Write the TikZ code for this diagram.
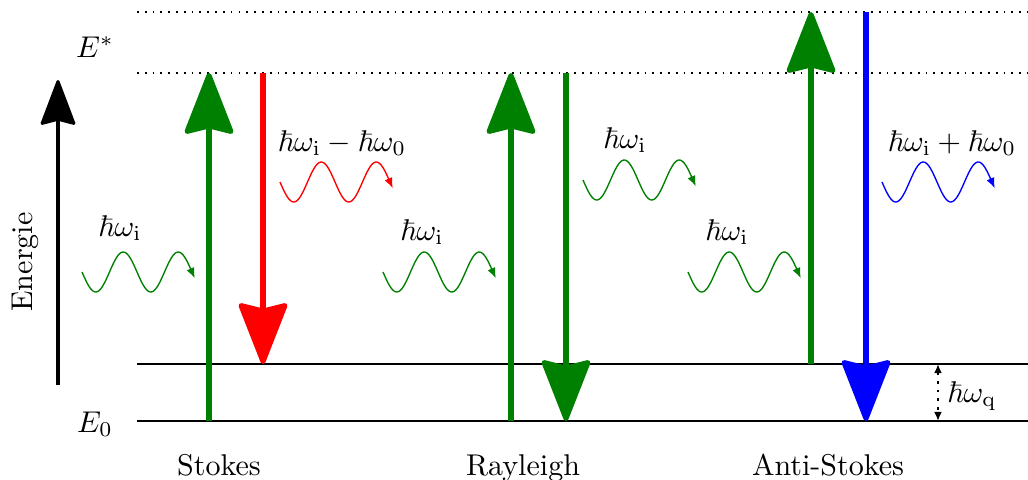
\documentclass[tikz,border=0pt]{standalone}
\usepackage{amsmath,amssymb}
\usepackage{tikz}
\usetikzlibrary{arrows.meta}
\definecolor{raman}{RGB}{0,128,0}
\newcommand{\hw}[1]{\hbar\omega_{\mathrm{#1}}}

\begin{document}
\begin{tikzpicture}[
    x=0.0117cm, y=-0.0117cm,
    level/.style={line width=0.65pt},
    virt/.style={dotted, line width=0.6pt},
    trans/.style={-{Stealth[length=22pt, width=17pt, inset=2pt, round]}, line width=1.7pt},
    photon/.style={-{Latex[length=3.4pt, width=2.8pt]}, line width=0.45pt},
    lbl/.style={inner sep=0pt}
  ]
  \useasboundingbox (0,0) rectangle (1028,480);
  % energy levels
  \coordinate (v2l) at (137,12);  \coordinate (v2r) at (1028,12);
  \coordinate (v1l) at (137,73);  \coordinate (v1r) at (1028,73);
  \coordinate (e1l) at (137,364); \coordinate (e1r) at (1028,364);
  \coordinate (e0l) at (137,421); \coordinate (e0r) at (1028,421);
  \draw[virt] (v2l) -- (v2r);
  \draw[virt] (v1l) -- (v1r);
  \draw[level] (e1l) -- (e1r);
  \draw[level] (e0l) -- (e0r);
  \node[lbl] (estar) at (95,47) {$E^*$};
  \node[lbl] (ezero) at (95,424) {$E_0$};
  % energy axis
  \coordinate (axbot) at (58,385);
  \coordinate (axtop) at (58,80);
  \draw[-{Stealth[length=16pt, width=12pt, inset=1.5pt, round]}, line width=1pt] (axbot) -- (axtop);
  \node[rotate=90, lbl] (energie) at (25,262) {Energie};
  % transitions
  \coordinate (st0) at (209,421); \coordinate (st1) at (209,73);
  \coordinate (sr0) at (263,73);  \coordinate (sr1) at (263,364);
  \coordinate (ry0) at (511,421); \coordinate (ry1) at (511,73);
  \coordinate (rd0) at (566,73);  \coordinate (rd1) at (566,421);
  \coordinate (au0) at (811,364); \coordinate (au1) at (811,12);
  \coordinate (ad0) at (866,12);  \coordinate (ad1) at (866,421);
  \draw[trans, raman] (st0) -- (st1);
  \draw[trans, red] (sr0) -- (sr1);
  \draw[trans, raman] (ry0) -- (ry1);
  \draw[trans, raman] (rd0) -- (rd1);
  \draw[trans, raman] (au0) -- (au1);
  \draw[trans, blue] (ad0) -- (ad1);
  % photons
  \foreach \sx/\cy/\col in {82/272/raman, 280/182/red, 383/272/raman,
                            583/180/raman, 688/272/raman, 882/182/blue}
    \draw[photon, \col] plot[domain=0:2.05, samples=80, smooth]
      ({\sx+55*\x}, {\cy+20*sin(360*\x)});
  \node (p1) at (120,228) {$\hw{i}$};
  \node (p2) at (342,143) {$\hw{i}-\hbar\omega_0$};
  \node (p3) at (422,232) {$\hw{i}$};
  \node (p4) at (625,140) {$\hw{i}$};
  \node (p5) at (727,232) {$\hw{i}$};
  \node (p6) at (952,143) {$\hw{i}+\hbar\omega_0$};
  % phonon energy
  \coordinate (q1) at (938,364); \coordinate (q0) at (938,421);
  \draw[dotted, line width=0.9pt, {Latex[length=3pt, width=2.6pt]}-{Latex[length=3pt, width=2.6pt]}] (q1) -- (q0);
  \node (hq) at (972,396) {$\hw{q}$};
  % process names
  \node[anchor=base] (stokes) at (219,475) {Stokes};
  \node[anchor=base] (rayleigh) at (523,475) {Rayleigh};
  \node[anchor=base] (anti) at (828,475) {Anti-Stokes};
\end{tikzpicture}
\end{document}
